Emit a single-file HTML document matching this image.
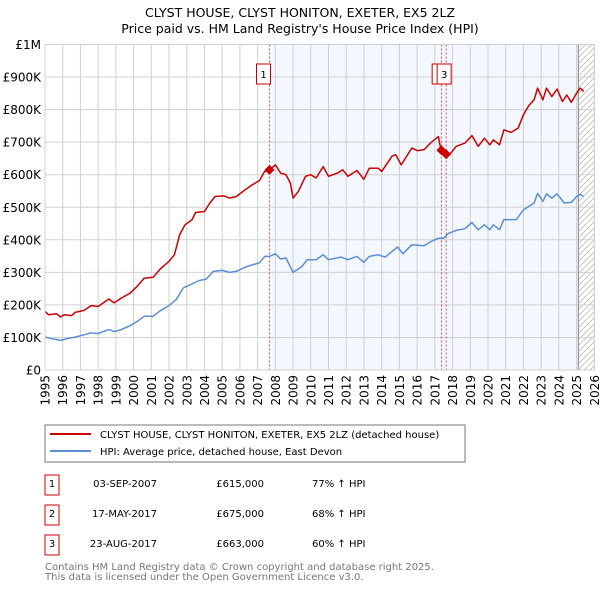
<!DOCTYPE html>
<html><head><meta charset="utf-8"><style>
body{margin:0;background:#fff;width:600px;height:590px;overflow:hidden;font-family:"DejaVu Sans","Liberation Sans",sans-serif}
svg text{font-family:"DejaVu Sans","Liberation Sans",sans-serif}
</style></head><body>
<svg id="chart" width="600" height="590">
<text x="300" y="17" text-anchor="middle" font-size="12.5">CLYST HOUSE, CLYST HONITON, EXETER, EX5 2LZ</text>
<text x="300" y="33" text-anchor="middle" font-size="12.5">Price paid vs. HM Land Registry's House Price Index (HPI)</text>
<g id="plot"></g>
<rect x="45" y="425" width="420" height="37" fill="#fff" stroke="#777"/>
<line x1="50" y1="434" x2="91" y2="434" stroke="#cc0000" stroke-width="2"/>
<text x="100" y="438" font-size="10">CLYST HOUSE, CLYST HONITON, EXETER, EX5 2LZ (detached house)</text>
<line x1="50" y1="451" x2="91" y2="451" stroke="#5b8fd4" stroke-width="2"/>
<text x="100" y="455" font-size="10">HPI: Average price, detached house, East Devon</text>
<g font-size="10">
<rect x="45" y="475" width="14" height="20" fill="none" stroke="#c00"/><text x="52" y="487" text-anchor="middle">1</text>
<text x="157" y="487" text-anchor="end">03-SEP-2007</text><text x="264" y="487" text-anchor="end">£615,000</text><text x="312" y="487">77% ↑ HPI</text>
<rect x="45" y="505" width="14" height="20" fill="none" stroke="#c00"/><text x="52" y="517" text-anchor="middle">2</text>
<text x="157" y="517" text-anchor="end">17-MAY-2017</text><text x="264" y="517" text-anchor="end">£675,000</text><text x="312" y="517">68% ↑ HPI</text>
<rect x="45" y="535" width="14" height="20" fill="none" stroke="#c00"/><text x="52" y="547" text-anchor="middle">3</text>
<text x="157" y="547" text-anchor="end">23-AUG-2017</text><text x="264" y="547" text-anchor="end">£663,000</text><text x="312" y="547">60% ↑ HPI</text>
</g>
<text x="45" y="570" font-size="10" fill="#777">Contains HM Land Registry data © Crown copyright and database right 2025.</text>
<text x="45" y="580" font-size="10" fill="#777">This data is licensed under the Open Government Licence v3.0.</text>
</svg>
<script>
const yearTicks=[1995,1996,1997,1998,1999,2000,2001,2002,2003,2004,2005,2006,2007,2008,2009,2010,2011,2012,2013,2014,2015,2016,2017,2018,2019,2020,2021,2022,2023,2024,2025,2026];
const priceTicks=[0,100,200,300,400,500,600,700,800,900,1000];
const priceTickLabels=["£0","£100K","£200K","£300K","£400K","£500K","£600K","£700K","£800K","£900K","£1M"];
const redYears=[1995.0,1995.2,1995.65,1995.87,1996.1,1996.5,1996.7,1997.2,1997.6,1998.0,1998.6,1998.9,1999.3,1999.8,2000.2,2000.6,2001.1,2001.5,2002.0,2002.3,2002.6,2002.9,2003.3,2003.5,2004.0,2004.3,2004.6,2005.1,2005.4,2005.8,2006.3,2006.7,2007.1,2007.4,2007.66,2008.0,2008.3,2008.6,2008.85,2009.0,2009.3,2009.7,2010.0,2010.3,2010.7,2011.0,2011.5,2011.8,2012.1,2012.6,2013.0,2013.3,2013.8,2014.0,2014.6,2014.8,2015.1,2015.7,2016.0,2016.4,2016.75,2017.2,2017.35,2017.66,2017.9,2018.2,2018.7,2019.1,2019.45,2019.8,2020.1,2020.3,2020.65,2020.9,2021.3,2021.7,2022.0,2022.3,2022.6,2022.8,2023.1,2023.3,2023.6,2023.9,2024.2,2024.45,2024.7,2025.0,2025.2,2025.4];
const redValues=[180,170,173,163,170,167,177,183,198,195,218,206,221,236,257,282,285,310,334,354,416,446,462,484,487,513,533,535,528,533,554,569,582,610,615,630,605,600,574,528,549,595,600,590,625,595,605,615,595,613,586,620,620,610,658,661,630,682,674,677,697,717,675,663,666,687,697,720,687,712,692,707,692,738,730,743,784,812,830,866,830,866,840,863,825,845,822,850,866,856];
const hpiYears=[1995.0,1995.4,1995.9,1996.3,1996.7,1997.2,1997.6,1998.0,1998.6,1998.9,1999.3,1999.8,2000.2,2000.6,2001.1,2001.5,2002.0,2002.4,2002.8,2003.2,2003.7,2004.1,2004.5,2005.0,2005.4,2005.8,2006.3,2006.7,2007.1,2007.4,2007.66,2008.0,2008.3,2008.6,2009.0,2009.5,2009.8,2010.3,2010.7,2011.0,2011.7,2012.1,2012.6,2013.0,2013.3,2013.8,2014.2,2014.9,2015.2,2015.7,2016.4,2016.8,2017.2,2017.5,2017.75,2018.2,2018.7,2019.1,2019.45,2019.8,2020.1,2020.3,2020.65,2020.9,2021.6,2022.0,2022.6,2022.8,2023.1,2023.3,2023.6,2023.9,2024.3,2024.7,2025.0,2025.2,2025.4];
const hpiValues=[101,96,91,97,101,108,114,112,124,118,124,136,149,165,165,182,198,216,252,262,275,279,303,306,300,303,316,323,329,349,349,357,341,344,300,318,339,339,354,339,347,339,349,331,349,354,347,378,357,385,382,395,405,405,419,429,434,453,431,446,431,446,431,462,462,492,513,543,518,541,528,541,513,515,533,540,533];
const saleLabels=["1","2","3"];
const saleYears=[2007.67,2017.37,2017.64];
const saleValues=[615,675,663];
const dataEndYear=2025.1;

const X0=45,X1=594.3,Y0=370,Y1=44.5;
const xs=y=>X0+(y-1995)/(2026-1995)*(X1-X0);
const ys=v=>Y0-v/1000*(Y0-Y1);
const NS="http://www.w3.org/2000/svg";
const g=document.getElementById('plot');
function mk(t,a,p){const e=document.createElementNS(NS,t);for(const k in a)e.setAttribute(k,a[k]);(p||g).appendChild(e);return e;}
let e=mk('rect',{x:xs(saleYears[0]),y:Y1,width:xs(dataEndYear)-xs(saleYears[0]),height:Y0-Y1,fill:'#f3f7fe'});


const defs=mk('defs',{});
const pat=mk('pattern',{id:'hatch',width:6,height:6,patternUnits:'userSpaceOnUse'},defs);
mk('path',{d:'M0,6 L6,0',stroke:'#bbb','stroke-width':0.8},pat);
e=mk('rect',{x:xs(dataEndYear),y:Y1,width:X1-xs(dataEndYear),height:Y0-Y1,fill:'url(#hatch)'});


yearTicks.forEach(yr=>{
 const l=mk('line',{x1:xs(yr),x2:xs(yr),y1:Y1,y2:Y0,stroke:'#d0d0d0'});
 
 
 const t=mk('text',{x:0,y:0,'font-size':12,'text-anchor':'end',transform:`translate(${xs(yr)+4.5},375) rotate(-90)`});
 t.textContent=yr;
 
 
});
priceTicks.forEach((v,i)=>{
 const l=mk('line',{x1:X0,x2:X1,y1:ys(v),y2:ys(v),stroke:'#d0d0d0'});
 
 
 const t=mk('text',{x:X0-4,y:ys(v)+4.5,'font-size':12,'text-anchor':'end'});
 t.textContent=priceTickLabels[i];
 
 
});
e=mk('line',{x1:xs(dataEndYear),x2:xs(dataEndYear),y1:Y1,y2:Y0,stroke:'#888'});


saleYears.forEach((yr,i)=>{
 const l=mk('line',{x1:xs(yr),x2:xs(yr),y1:Y1,y2:Y0,stroke:'#e05050','stroke-dasharray':'2,2'});
 
 
});
function path(xsArr,vals,color,name){
 const d=xsArr.map((yr,i)=>(i?'L':'M')+xs(yr).toFixed(1)+','+ys(vals[i]).toFixed(1)).join(' ');
 const p=mk('path',{d:d,fill:'none',stroke:color,'stroke-width':1.5,'stroke-linejoin':'round'});
 
 
}
path(hpiYears,hpiValues,'#5b8fd4','hpi-line');
path(redYears,redValues,'#cc0000','property-price-line');
saleYears.forEach((yr,i)=>{
 const cx=xs(yr),cy=ys(saleValues[i]);
 const p=mk('path',{d:`M${cx},${cy-5} L${cx+5},${cy} L${cx},${cy+5} L${cx-5},${cy} Z`,fill:'#cc0000'});
 
 
});
const b3=xs(saleYears[2])-9;
const boxX=[xs(saleYears[0])-13,b3-5,b3];
saleLabels.forEach((lb,i)=>{
 const b=mk('rect',{x:boxX[i],y:64,width:14,height:20,fill:'#fff',stroke:'#c00'});
 
 
 const t=mk('text',{x:boxX[i]+7,y:78,'font-size':10,'text-anchor':'middle'});
 t.textContent=lb;
 
 
});
e=mk('rect',{x:X0,y:Y1,width:X1-X0,height:Y0-Y1,fill:'none',stroke:'#d0d0d0'});


</script>
</body></html>
